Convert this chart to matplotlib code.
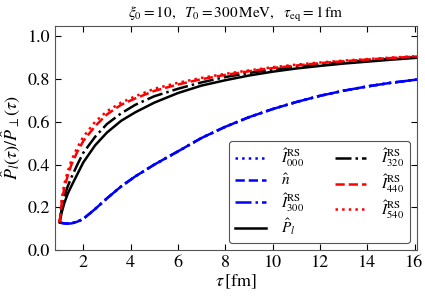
import numpy as np
import matplotlib
matplotlib.use("Agg")
import matplotlib.pyplot as plt

plt.rcParams['font.family'] = ['STIXGeneral', 'DejaVu Serif']
plt.rcParams['mathtext.fontset'] = 'stix'
plt.rcParams['font.size'] = 11

# time grid [fm]
tau = [1.0, 1.1, 1.2, 1.35, 1.5, 1.75, 2.0, 2.5, 3.0, 3.6, 4.2, 5.0, 6.0, 7.0, 8.0,
       9.0, 10.0, 11.0, 12.0, 13.0, 14.0, 15.0, 16.1]

# blue family (nearly identical)
I000 = [0.130, 0.127, 0.125, 0.124, 0.125, 0.133, 0.146, 0.192, 0.242, 0.298, 0.345,
        0.400, 0.462, 0.525, 0.577, 0.622, 0.660, 0.693, 0.722, 0.746, 0.766, 0.783, 0.798]
n_hat = [0.130, 0.127, 0.125, 0.124, 0.125, 0.133, 0.146, 0.192, 0.242, 0.298, 0.345,
         0.400, 0.462, 0.525, 0.577, 0.622, 0.660, 0.693, 0.722, 0.746, 0.766, 0.783, 0.798]
I300 = [0.130, 0.127, 0.125, 0.124, 0.125, 0.133, 0.146, 0.192, 0.242, 0.298, 0.345,
        0.400, 0.462, 0.525, 0.577, 0.622, 0.660, 0.693, 0.722, 0.746, 0.766, 0.783, 0.798]
# exact
P_l = [0.130, 0.180, 0.220, 0.265, 0.300, 0.355, 0.410, 0.490, 0.550, 0.605, 0.645,
       0.690, 0.735, 0.770, 0.795, 0.817, 0.835, 0.850, 0.862, 0.873, 0.882, 0.891, 0.900]
I320 = [0.130, 0.200, 0.250, 0.300, 0.340, 0.400, 0.455, 0.530, 0.590, 0.640, 0.680,
        0.720, 0.755, 0.785, 0.810, 0.829, 0.845, 0.858, 0.870, 0.880, 0.888, 0.896, 0.903]
I440 = [0.130, 0.230, 0.290, 0.350, 0.400, 0.460, 0.510, 0.580, 0.635, 0.680, 0.710,
        0.745, 0.775, 0.800, 0.820, 0.837, 0.852, 0.864, 0.875, 0.884, 0.892, 0.899, 0.906]
I540 = [0.130, 0.245, 0.310, 0.370, 0.420, 0.480, 0.530, 0.600, 0.650, 0.690, 0.720,
        0.755, 0.783, 0.806, 0.825, 0.841, 0.856, 0.868, 0.878, 0.887, 0.894, 0.901, 0.908]

fig = plt.figure(figsize=(4.25, 2.96), dpi=100)
ax = fig.add_axes([0.129, 0.155, 0.852, 0.758])

lw = 1.8
l1, = ax.plot(tau, I000, color='blue', ls=':', lw=lw, label=r'$\hat{I}^{\rm RS}_{000}$')
l2, = ax.plot(tau, n_hat, color='blue', ls='--', lw=lw, label=r'$\hat{n}$')
l3, = ax.plot(tau, I300, color='blue', ls='-.', lw=lw, label=r'$\hat{I}^{\rm RS}_{300}$')
l4, = ax.plot(tau, P_l, color='black', ls='-', lw=lw, label=r'$\hat{P}_l$')
l5, = ax.plot(tau, I320, color='black', ls='-.', lw=lw, label=r'$\hat{I}^{\rm RS}_{320}$')
l6, = ax.plot(tau, I440, color='red', ls='--', lw=lw, label=r'$\hat{I}^{\rm RS}_{440}$')
l7, = ax.plot(tau, I540, color='red', ls=':', lw=lw, label=r'$\hat{I}^{\rm RS}_{540}$')

ax.set_xlim(0.8, 16.1)
ax.set_ylim(0.0, 1.05)
ax.set_xticks([2, 4, 6, 8, 10, 12, 14, 16])
ax.set_yticks([0.0, 0.2, 0.4, 0.6, 0.8, 1.0])
ax.tick_params(direction='in', top=True, right=True, length=4, width=0.8, labelsize=13)
for s in ax.spines.values():
    s.set_color('#555555')

ax.set_xlabel(r'$\tau\,[\mathrm{fm}]$', fontsize=13, labelpad=1)
ax.set_ylabel(r'$\hat{P}_l(\tau)/\hat{P}_\perp(\tau)$', fontsize=13, labelpad=4)
ax.set_title(r'$\xi_0 = 10,\ \ T_0 = 300\,\mathrm{MeV},\ \ \tau_{\rm eq} = 1\,\mathrm{fm}$',
             fontsize=11, pad=6)

leg = ax.legend(handles=[l1, l2, l3, l4, l5, l6, l7], ncol=2, loc='lower right',
                fontsize=11, handlelength=2.0, handletextpad=1.0, borderaxespad=0.45,
                columnspacing=2.0, labelspacing=0.2, borderpad=0.4,
                fancybox=True, framealpha=1, edgecolor='#555555')
leg.get_frame().set_linewidth(0.8)

fig.savefig('out.png', dpi=100)
